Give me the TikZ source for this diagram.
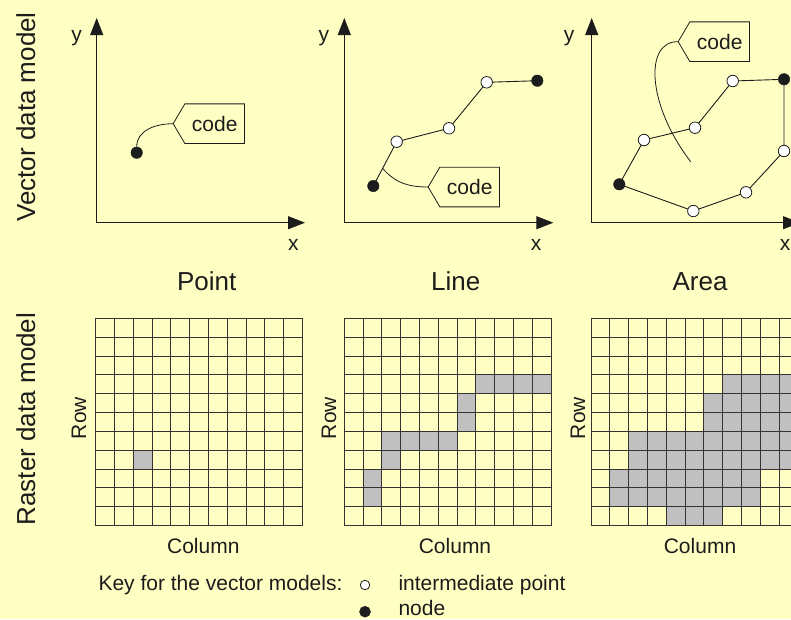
\documentclass[tikz,border=0pt]{standalone}
\usepackage{fontspec}
\setmainfont{Liberation Sans}
\usetikzlibrary{arrows.meta,calc}
\definecolor{bgyellow}{RGB}{255,255,196}
\definecolor{cellgray}{RGB}{192,192,192}
\definecolor{ink}{RGB}{28,28,28}
\tikzset{
  axis/.style={line width=1pt, draw=ink, -{Triangle[length=17pt,width=13pt]}},
  edge/.style={line width=0.9pt, draw=ink},
  vnode/.style={circle, fill=ink, draw=ink, inner sep=0pt, minimum size=11.5pt},
  ipoint/.style={circle, fill=white, draw=ink, line width=0.8pt, inner sep=0pt, minimum size=11.5pt},
  codebox/.style={minimum width=59.3pt, minimum height=39.3pt, inner sep=0pt, font=\fontsize{21}{25}\selectfont, text=ink},
  callout/.style={line width=0.8pt, draw=ink},
  leader/.style={line width=0.8pt, draw=ink},
  small/.style={font=\fontsize{21}{25}\selectfont, text=ink, inner sep=0pt},
  title/.style={font=\fontsize{26}{30}\selectfont, text=ink, inner sep=0pt},
  gridline/.style={line width=1pt, draw=black!80},
}
\newcommand\myraster[2]{%
  \begin{scope}[shift={(#1,318.3)}]
    \foreach \r/\a/\b in {#2}
      \fill[cellgray] (\a*18.8,\r*18.85) rectangle ({(\b+1)*18.8},{(\r+1)*18.85});
    \foreach \i in {0,...,11} {
      \draw[gridline] (\i*18.8,0) -- (\i*18.8,207.35);
      \draw[gridline] (0,\i*18.85) -- (206.8,\i*18.85);
    }
  \end{scope}}
\begin{document}
\begin{tikzpicture}[x=1pt,y=-1pt]
  \fill[bgyellow] (0,0) rectangle (791,619);
  \useasboundingbox (0,0) rectangle (791,619);
  \clip (0,0) rectangle (791,619);

  % side labels
  \node[title, rotate=90, anchor=base] (vlab) at (35,117) {Vector data model};
  \node[title, rotate=90, anchor=base] (rlab) at (35,419) {Raster data model};

  % ---------- Plot 1: Point ----------
  \coordinate (o1) at (96.7,222.7);
  \coordinate (ty1) at (96.7,18);
  \coordinate (tx1) at (305,222.7);
  \draw[axis] (o1) -- (ty1);
  \draw[axis] (o1) -- (tx1);
  \node[small, anchor=base] (y1) at (76.7,41) {y};
  \node[small, anchor=base] (x1) at (293.3,250.7) {x};
  \node[codebox] (c1) at (214.7,123.7) {code};
  \draw[callout] (c1.north west) -- (c1.north east) -- (c1.south east) -- (c1.south west) -- ([xshift=-11.7pt]c1.west) -- cycle;
  \node[vnode] (p1) at (136.7,152.7) {};
  \draw[leader] (p1.north) to[out=90,in=180] ([xshift=-11.7pt]c1.west);
  \node[title, anchor=base] (t1) at (206.7,290.7) {Point};

  % ---------- Plot 2: Line ----------
  \coordinate (o2) at (344.3,222.7);
  \coordinate (ty2) at (344.3,18);
  \coordinate (tx2) at (553.3,222.7);
  \draw[axis] (o2) -- (ty2);
  \draw[axis] (o2) -- (tx2);
  \node[small, anchor=base] (y2) at (323.8,41) {y};
  \node[small, anchor=base] (x2) at (536,250.7) {x};
  \node[codebox] (c2) at (469.7,187) {code};
  \draw[callout] (c2.north west) -- (c2.north east) -- (c2.south east) -- (c2.south west) -- ([xshift=-11.7pt]c2.west) -- cycle;
  \coordinate (l2a) at (373.3,186);
  \coordinate (l2b) at (396.7,141.7);
  \coordinate (l2c) at (449,128.3);
  \coordinate (l2d) at (486.7,82.3);
  \coordinate (l2e) at (537.3,80.7);
  \draw[edge] (l2a) -- (l2b) -- (l2c) -- (l2d) -- (l2e);
  \coordinate (s2) at ($(l2a)!0.4!(l2b)$);
  \draw[leader] (s2) to[out=-50,in=180] ([xshift=-11.7pt]c2.west);
  \node[vnode] (n2a) at (l2a) {};
  \node[ipoint] (n2b) at (l2b) {};
  \node[ipoint] (n2c) at (l2c) {};
  \node[ipoint] (n2d) at (l2d) {};
  \node[vnode] (n2e) at (l2e) {};
  \node[title, anchor=base] (t2) at (455.7,290.7) {Line};

  % ---------- Plot 3: Area ----------
  \coordinate (o3) at (591.7,222.7);
  \coordinate (ty3) at (591.7,18);
  \coordinate (tx3) at (800,222.7);
  \draw[axis] (o3) -- (ty3);
  \draw[axis] (o3) -- (tx3);
  \node[small, anchor=base] (y3) at (569,41) {y};
  \node[small, anchor=base] (x3) at (785,250.7) {x};
  \node[codebox] (c3) at (719.7,41.7) {code};
  \draw[callout] (c3.north west) -- (c3.north east) -- (c3.south east) -- (c3.south west) -- ([xshift=-11.7pt]c3.west) -- cycle;
  \coordinate (a3) at (619.3,184.3);
  \coordinate (b3) at (644,140);
  \coordinate (c3p) at (695,127.7);
  \coordinate (d3) at (732.7,81);
  \coordinate (e3) at (784,79.3);
  \coordinate (f3) at (784,151);
  \coordinate (g3) at (746,192.3);
  \coordinate (h3) at (693.3,211);
  \draw[edge] (a3) -- (b3) -- (c3p) -- (d3) -- (e3) -- (f3) -- (g3) -- (h3) -- cycle;
  \coordinate (a3end) at (690.7,161.7);
  \draw[leader] ([xshift=-11.7pt]c3.west) .. controls (644,41) and (647,105) .. (a3end);
  \node[vnode] (n3a) at (a3) {};
  \node[ipoint] (n3b) at (b3) {};
  \node[ipoint] (n3c) at (c3p) {};
  \node[ipoint] (n3d) at (d3) {};
  \node[vnode] (n3e) at (e3) {};
  \node[ipoint] (n3f) at (f3) {};
  \node[ipoint] (n3g) at (g3) {};
  \node[ipoint] (n3h) at (h3) {};
  \node[title, anchor=base] (t3) at (700,290.7) {Area};

  % ---------- Raster grids ----------
  \myraster{95.7}{7/2/2}
  \myraster{344.3}{3/7/10,4/6/6,5/6/6,6/2/5,7/2/2,8/1/1,9/1/1}
  \myraster{591}{3/7/10,4/6/10,5/6/10,6/2/10,7/2/10,8/1/8,9/1/8,10/4/6}

  \node[small, rotate=90, anchor=base] (r1) at (86,418) {Row};
  \node[small, rotate=90, anchor=base] (r2) at (336,418) {Row};
  \node[small, rotate=90, anchor=base] (r3) at (585,418) {Row};
  \node[small, anchor=base] (k1) at (203.3,553.3) {Column};
  \node[small, anchor=base] (k2) at (455,553.3) {Column};
  \node[small, anchor=base] (k3) at (700,553.3) {Column};

  % ---------- Key ----------
  \node[small, anchor=base west] (key) at (98.3,590) {Key for the vector models:};
  \node[ipoint, minimum size=9.5pt] (kip) at (365,585) {};
  \node[vnode, minimum size=11pt] (knd) at (365,611.7) {};
  \node[small, anchor=base west] (kipl) at (398.3,590) {intermediate point};
  \node[small, anchor=base west] (kndl) at (398.3,615.5) {node};
\end{tikzpicture}
\end{document}
